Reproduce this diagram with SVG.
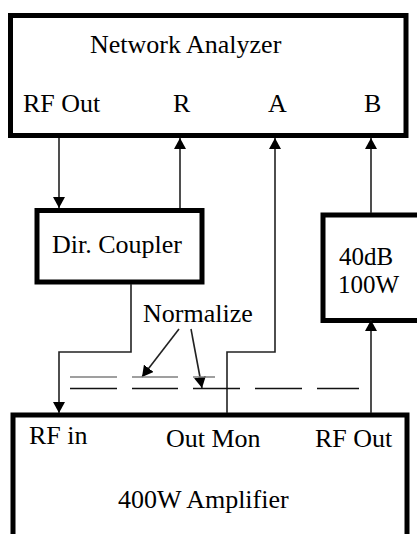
<svg xmlns="http://www.w3.org/2000/svg" width="417" height="534" viewBox="0 0 417 534">
<style>
.box{fill:#fff;stroke:#000;stroke-width:5}
.t{font-family:"Liberation Serif","Times New Roman",serif;font-size:26px;fill:#000}
.s{font-size:25px}
.c{fill:none;stroke:#222;stroke-width:1.6}
.dg{fill:none;stroke:#808080;stroke-width:1.6}
.dk{fill:none;stroke:#111;stroke-width:1.6}
</style>
<defs>
<marker id="ah" viewBox="0 0 11 12" refX="11" refY="6" markerWidth="11" markerHeight="12" markerUnits="userSpaceOnUse" orient="auto">
<path d="M0,0 L11,6 L0,12 z" fill="#000"/>
</marker>
</defs>
<g id="network-analyzer">
<rect class="box" x="10.5" y="15.5" width="395.5" height="120"/>
<text class="t" x="90" y="53">Network Analyzer</text>
<text class="t" x="23" y="112">RF Out</text>
<text class="t" x="173" y="112">R</text>
<text class="t" x="268" y="112">A</text>
<text class="t" x="364" y="112">B</text>
</g>
<g id="dir-coupler">
<rect class="box" x="37" y="210.5" width="165" height="71.5"/>
<text class="t" x="52" y="253">Dir. Coupler</text>
</g>
<g id="attenuator">
<rect class="box" x="323" y="215" width="110" height="105.5"/>
<text class="t s" x="339" y="265">40dB</text>
<text class="t s" x="338" y="293">100W</text>
</g>
<g id="amplifier">
<rect class="box" x="13" y="415" width="394" height="130"/>
<text class="t" x="29" y="444">RF in</text>
<text class="t" x="166" y="447">Out Mon</text>
<text class="t" x="315" y="447">RF Out</text>
<text class="t" x="118" y="508">400W Amplifier</text>
</g>
<g id="normalize-label">
<text class="t" x="143" y="322">Normalize</text>
</g>
<g id="connectors">
<path class="c" d="M59,138 V208" marker-end="url(#ah)"/>
<path class="c" d="M180,208 V138" marker-end="url(#ah)"/>
<path class="c" d="M227,413 V352 H275 V138" marker-end="url(#ah)"/>
<path class="c" d="M371,213 V138" marker-end="url(#ah)"/>
<path class="c" d="M371,413 V320" marker-end="url(#ah)"/>
<path class="c" d="M131,284 V352 H59 V413" marker-end="url(#ah)"/>
<path class="c" d="M179,329 L142,377" marker-end="url(#ah)"/>
<path class="c" d="M191,329 L202,388" marker-end="url(#ah)"/>
<path class="dg" d="M70,377 H117 M132,377 H178 M193,377 H215"/>
<path class="dk" d="M70,388.5 H117 M132,388.5 H178 M193,388.5 H240 M255,388.5 H302 M317,388.5 H359"/>
</g>
</svg>
